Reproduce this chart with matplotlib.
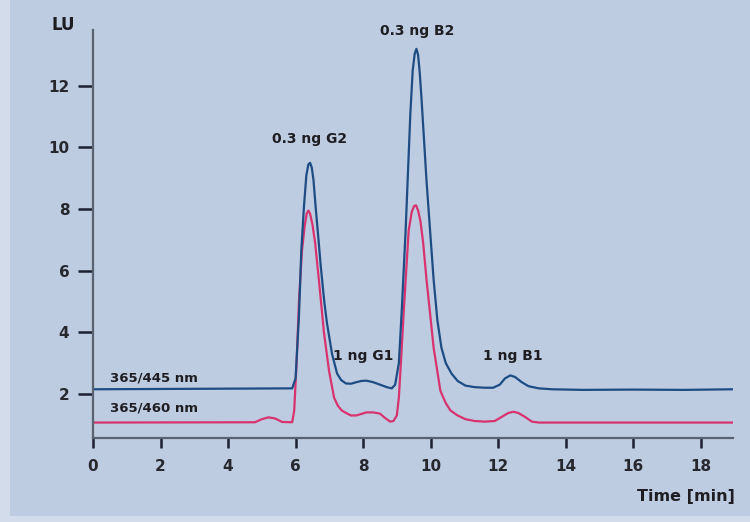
import matplotlib
matplotlib.use("Agg")
import matplotlib.pyplot as plt
from matplotlib.patches import Rectangle

# Time axis (min) and detector response (LU)
t_blue = [0, 5.9, 6.0, 6.1, 6.17, 6.25, 6.32, 6.38, 6.43, 6.48, 6.53, 6.6, 6.68, 6.75, 6.85,
          6.93, 7.08, 7.23, 7.35, 7.49, 7.64, 7.8, 7.95, 8.1, 8.3, 8.5, 8.7, 8.85, 8.95, 9.06,
          9.15, 9.26, 9.4, 9.47, 9.53, 9.58, 9.63, 9.68, 9.73, 9.88, 10.09, 10.2, 10.32, 10.45,
          10.62, 10.8, 11.03, 11.3, 11.62, 11.85, 12.05, 12.2, 12.36, 12.5, 12.7, 12.9, 13.2,
          13.6, 14.5, 16, 17.5, 18.95]
lu_blue = [2.15, 2.18, 2.5, 4.5, 6.65, 8.1, 9.1, 9.45, 9.5, 9.35, 8.95, 8.0, 7.0, 6.1, 5.0,
           4.3, 3.3, 2.66, 2.45, 2.34, 2.33, 2.38, 2.42, 2.43, 2.38, 2.3, 2.22, 2.18, 2.3, 3.0,
           4.8, 7.3, 11.1, 12.5, 13.05, 13.2, 13.0, 12.4, 11.6, 8.9, 5.7, 4.4, 3.5, 3.0,
           2.66, 2.42, 2.27, 2.22, 2.2, 2.2, 2.3, 2.5, 2.6, 2.55, 2.38, 2.25, 2.18,
           2.15, 2.13, 2.14, 2.13, 2.15]

t_red = [0, 4.8, 5.0, 5.2, 5.4, 5.6, 5.9, 5.96, 6.03, 6.1, 6.19, 6.27, 6.33, 6.38, 6.43, 6.5,
         6.58, 6.7, 6.84, 6.99, 7.14, 7.25, 7.37, 7.5, 7.64, 7.8, 7.95, 8.1, 8.3, 8.5, 8.65, 8.8,
         8.9, 9.0, 9.06, 9.13, 9.2, 9.35, 9.44, 9.51, 9.57, 9.63, 9.7, 9.78, 9.88, 10.09, 10.29,
         10.45, 10.59, 10.8, 11.03, 11.3, 11.6, 11.9, 12.1, 12.3, 12.45, 12.6, 12.8, 13.0, 13.2,
         14, 16, 18.95]
lu_red = [1.07, 1.08, 1.18, 1.24, 1.2, 1.09, 1.08, 1.46, 3.0, 5.0, 6.65, 7.45, 7.85, 7.95, 7.85,
          7.5, 6.9, 5.6, 4.0, 2.76, 1.88, 1.62, 1.46, 1.38, 1.3, 1.3, 1.35, 1.4, 1.4, 1.36, 1.22,
          1.1, 1.12, 1.3, 1.88, 3.2, 4.6, 7.3, 7.9, 8.1, 8.12, 7.95, 7.6, 6.9, 5.7, 3.5, 2.1,
          1.7, 1.46, 1.3, 1.18, 1.12, 1.1, 1.12, 1.25, 1.38, 1.42, 1.38, 1.25, 1.1, 1.07,
          1.07, 1.07, 1.07]

series_labels = ["365/445 nm", "365/460 nm"]
peak_labels = ["0.3 ng G2", "1 ng G1", "0.3 ng B2", "1 ng B1"]
peak_label_x = [6.4, 8.0, 9.6, 12.45]
peak_label_y = [10.05, 3.0, 13.55, 3.0]
x_ticks = [0, 2, 4, 6, 8, 10, 12, 14, 16, 18]
y_ticks = [2, 4, 6, 8, 10, 12]

BG = "#bdcce1"
plt.rcParams["font.family"] = ["DejaVu Sans"]

fig = plt.figure(figsize=(7.5, 5.22), dpi=100, facecolor=BG)
# lighter frame strips at left and bottom edges of the picture
fig.add_artist(Rectangle((0, 0), 10 / 750, 1, transform=fig.transFigure,
                         facecolor="#d2dcea", edgecolor="none", zorder=-5))
fig.add_artist(Rectangle((0, 0), 1, 6 / 522, transform=fig.transFigure,
                         facecolor="#d2dcea", edgecolor="none", zorder=-5))

ax = fig.add_axes([0.124, 0.161, 0.853, 0.782], facecolor=BG)

ax.plot(t_red, lu_red, color="#d8336f", lw=1.6, solid_joinstyle="round")
ax.plot(t_blue, lu_blue, color="#1d4c85", lw=1.6, solid_joinstyle="round")

ax.set_xlim(0, 18.95)
ax.set_ylim(0.57, 13.82)
ax.set_xticks(x_ticks)
ax.set_yticks(y_ticks)
for s in ["top", "right"]:
    ax.spines[s].set_visible(False)
for s in ["left", "bottom"]:
    ax.spines[s].set_color("#5a6272")
    ax.spines[s].set_linewidth(1.6)
ax.tick_params(axis="y", length=11, width=1.8, color="#1a2030", pad=6,
               labelsize=11, labelcolor="#26282e")
ax.tick_params(axis="x", length=7, width=1.8, color="#1a2030", pad=8,
               labelsize=11, labelcolor="#26282e")
for lab in ax.get_xticklabels() + ax.get_yticklabels():
    lab.set_fontweight("bold")

txt = dict(fontsize=10, color="#1e1e22", fontweight="bold", ha="center", va="bottom")
for lbl, x, y in zip(peak_labels, peak_label_x, peak_label_y):
    ax.text(x, y, lbl, **txt)

ax.text(0.5, 2.32, series_labels[0], fontsize=9.5, color="#1e1e22", fontweight="bold",
        ha="left", va="bottom")
ax.text(0.5, 1.32, series_labels[1], fontsize=9.5, color="#1e1e22", fontweight="bold",
        ha="left", va="bottom")

fig.text(63 / 750, 1 - 25 / 522, "LU", fontsize=12, color="#1e1e22", fontweight="bold",
         ha="center", va="center")
fig.text(735 / 750, 1 - 497 / 522, "Time [min]", fontsize=11.5, color="#1e1e22",
         fontweight="bold", ha="right", va="center")

fig.savefig("out.png", dpi=100, facecolor=BG)
